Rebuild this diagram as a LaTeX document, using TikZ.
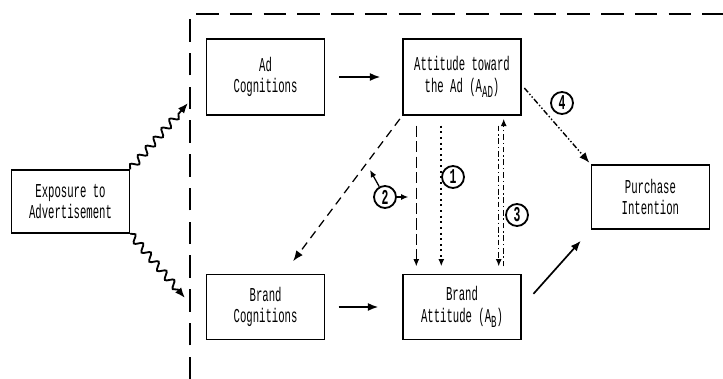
\documentclass[tikz,border=0pt]{standalone}
\usepackage{fontspec}
\usepackage{tikz}
\usetikzlibrary{arrows.meta,decorations.pathmorphing}
\newfontfamily\boxfont[FakeStretch=0.54]{Liberation Mono}
\newcommand\lowtext[1]{\raisebox{-0.5ex}{\fontsize{12}{12}\selectfont #1}}

\begin{document}
\begin{tikzpicture}[
	box/.style={draw, line width=1pt, minimum width=2.95cm, align=center, font=\boxfont\fontsize{14}{15}\selectfont},
	num/.style={draw, circle, line width=1.3pt, inner sep=0pt, minimum size=0.55cm, font=\boxfont\fontsize{15}{15}\selectfont\bfseries},
	tip/.style={-{Latex[length=2.6mm,width=2mm]}},
	smalltip/.style={-{Latex[length=1.8mm,width=1.5mm]}},
	wave/.style={tip, line width=1.3pt, decorate, decoration={snake, amplitude=0.09cm, segment length=0.3cm, post length=0.25cm}}
	]
	\useasboundingbox (0,0) rectangle (18.075,9.475);
	\draw[line width=1.2pt, dash pattern=on 16pt off 8pt] (4.75,0) -- (4.75,9.125) -- (18.075,9.125);

	\node[box, minimum height=1.575cm] (expo) at (1.7625,4.4375) {Exposure to\\Advertisement};
	\node[box, minimum height=1.9cm] (adcog) at (6.64,7.55) {Ad\\Cognitions};
	\node[box, minimum height=1.9cm] (aad) at (11.55,7.55) {Attitude toward\\the Ad (A\lowtext{AD})};
	\node[box, minimum height=1.62cm] (bcog) at (6.64,1.8) {Brand\\Cognitions};
	\node[box, minimum height=1.62cm] (bat) at (11.55,1.8) {Brand\\Attitude (A\lowtext{B})};
	\node[box, minimum height=1.6cm] (pi) at (16.26,4.55) {Purchase\\Intention};

	\node[num] (one) at (11.325,5.05) {1};
	\node[num] (two) at (9.625,4.55) {2};
	\node[num] (three) at (12.925,4.1) {3};
	\node[num] (four) at (14.05,6.9) {4};

	\coordinate (upend) at (4.7,6.9);
	\coordinate (downend) at (4.625,2.025);
	\coordinate (twotip) at (9.25,5.225);
	\coordinate (dashx) at ([xshift=0.35cm]aad.south west);

	\draw[wave] (expo.north east) -- (upend);
	\draw[wave] (expo.south east) -- (downend);

	\draw[tip, line width=1.2pt, shorten <=0.35cm, shorten >=0.55cm] (adcog) -- (aad);
	\draw[tip, line width=1.2pt, shorten <=0.33cm, shorten >=0.6cm] (bcog) -- (bat);
	\draw[tip, line width=1.2pt, shorten <=0.44cm, shorten >=0.37cm] (bat.east) -- (pi.south west);

	\draw[tip, line width=0.9pt, dash pattern=on 6pt off 4pt, shorten <=0.1cm, shorten >=0.4cm] (aad.south west) -- ([xshift=0.45cm]bcog.north);

	% paths 1 to 3
	\draw[smalltip, line width=0.8pt, dash pattern=on 8pt off 3pt, shorten <=0.25cm, shorten >=0.19cm] (dashx) -- ([xshift=0.35cm]bat.north west);
	\draw[smalltip, line width=1.4pt, dash pattern=on 1.4pt off 2.6pt, shorten <=0.25cm, shorten >=0.19cm] ([xshift=0.975cm]aad.south west) -- ([xshift=0.975cm]bat.north west);
	\draw[smalltip, line width=0.8pt, dash pattern=on 4pt off 2pt on 1pt off 2pt, shorten <=0.25cm, shorten >=0.19cm] ([xshift=-0.575cm]aad.south east) -- ([xshift=-0.575cm]bat.north east);
	\draw[smalltip, line width=0.8pt, dash pattern=on 4pt off 2pt on 1pt off 2pt, shorten <=0.19cm, shorten >=0.08cm] ([xshift=-0.45cm]bat.north east) -- ([xshift=-0.45cm]aad.south east);

	\draw[smalltip, line width=0.9pt, shorten >=0.2cm] (two.east) -- (dashx |- two);
	\draw[smalltip, line width=0.9pt] (two) -- (twotip);

	\draw[tip, line width=1pt, dash pattern=on 4pt off 1.5pt on 1pt off 1.5pt on 1pt off 1.5pt, shorten <=0.1cm, shorten >=0.05cm] ([yshift=-0.2cm]aad.east) -- (pi.north west);
\end{tikzpicture}
\end{document}
